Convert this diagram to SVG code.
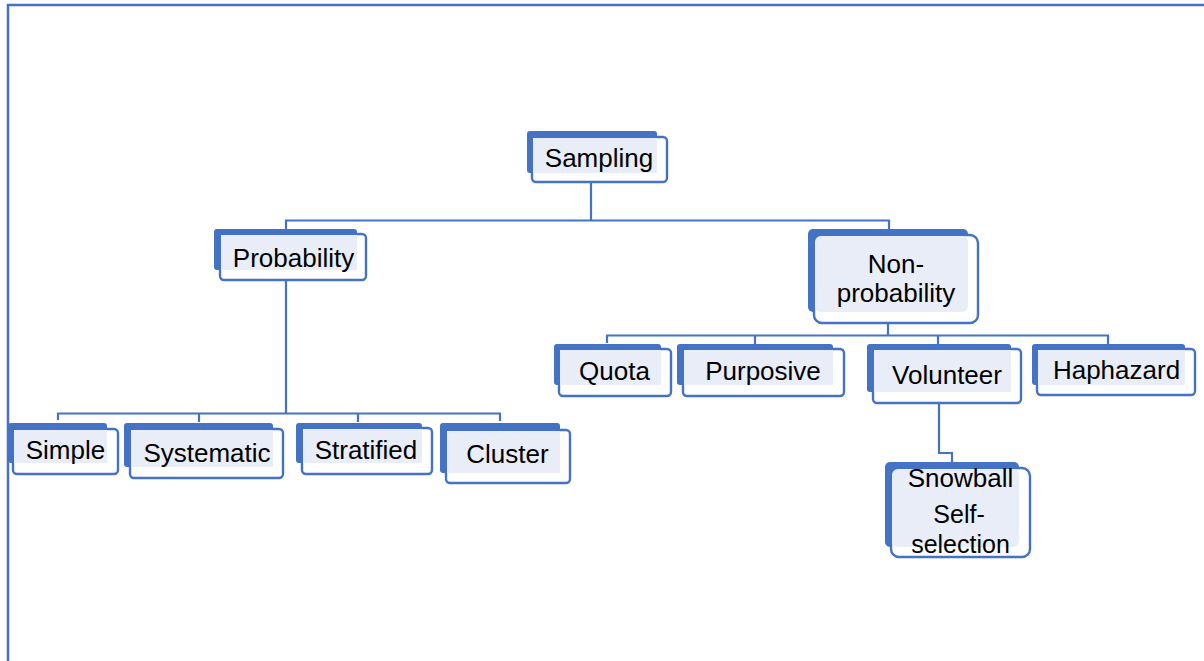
<svg xmlns="http://www.w3.org/2000/svg" width="1204" height="661" viewBox="0 0 1204 661">
  <style>
    .back { fill: #4472C4; }
    .front { fill: #FFFFFF; stroke: #4472C4; stroke-width: 2.4; }
    .tint { fill: #E9EDF7; }
    .lbl { font-family: "Liberation Sans", Arial, sans-serif; font-size: 26px; fill: #000000; text-anchor: middle; }
    .tight { font-size: 25px; }
    .wire { fill: none; stroke: #4472C4; stroke-width: 2.2; }
    .frame { fill: none; stroke: #4472C4; stroke-width: 2.5; }
  </style>
  <rect width="1204" height="661" fill="#FFFFFF"/>

  <!-- outer frame: top and left edges -->
  <path class="frame" d="M8,661 V5 H1204"/>

  <!-- connectors -->
  <g id="connectors">
    <path class="wire" d="M591,182 V220.5 M286,229 V220.5 H889 V235"/>
    <path class="wire" d="M286,280 V413.5 M58,420 V413.5 H500 V421 M199,413.5 V422 M358,413.5 V422"/>
    <path class="wire" d="M888,323 V335.5 M607,343 V335.5 H1108 V344 M755,335.5 V344 M938,335.5 V344"/>
    <path class="wire" d="M939,403 V453 H952 V462"/>
  </g>

  <!-- nodes: blue tab behind, white outlined card in front, tinted overlap -->
  <g id="sampling">
    <rect class="back" x="527" y="131" width="130" height="42" rx="3"/>
    <rect class="front" x="532" y="137" width="135" height="45" rx="4"/>
    <rect class="tint" x="533" y="138" width="124" height="35"/>
    <text class="lbl" x="599" y="167">Sampling</text>
  </g>

  <g id="probability">
    <rect class="back" x="214" y="229" width="143" height="41" rx="3"/>
    <rect class="front" x="220" y="234" width="146" height="46" rx="4"/>
    <rect class="tint" x="221" y="235" width="136" height="35"/>
    <text class="lbl" x="293.5" y="267">Probability</text>
  </g>

  <g id="non-probability">
    <rect class="back" x="808" y="229" width="160" height="83" rx="5"/>
    <rect class="front" x="814" y="235" width="164" height="88" rx="8"/>
    <rect class="tint" x="815" y="236" width="153" height="76" rx="6"/>
    <text class="lbl" x="896" y="273">Non-</text>
    <text class="lbl" x="896" y="302">probability</text>
  </g>

  <g id="simple">
    <rect class="back" x="8" y="423" width="99" height="40" rx="3"/>
    <rect class="front" x="13" y="429" width="105" height="45" rx="4"/>
    <rect class="tint" x="14" y="430" width="93" height="33"/>
    <text class="lbl" x="65.5" y="459">Simple</text>
  </g>

  <g id="systematic">
    <rect class="back" x="124" y="423" width="149" height="44" rx="3"/>
    <rect class="front" x="130" y="429" width="153" height="49" rx="4"/>
    <rect class="tint" x="131" y="430" width="142" height="37"/>
    <text class="lbl" x="207" y="462">Systematic</text>
  </g>

  <g id="stratified">
    <rect class="back" x="296" y="423" width="126" height="40" rx="3"/>
    <rect class="front" x="302" y="428" width="130" height="46" rx="4"/>
    <rect class="tint" x="303" y="429" width="119" height="34"/>
    <text class="lbl" x="366" y="459">Stratified</text>
  </g>

  <g id="cluster">
    <rect class="back" x="440" y="423" width="120" height="50" rx="3"/>
    <rect class="front" x="446" y="430" width="124" height="53" rx="4"/>
    <rect class="tint" x="447" y="431" width="113" height="42"/>
    <text class="lbl" x="507.5" y="463">Cluster</text>
  </g>

  <g id="quota">
    <rect class="back" x="554" y="344" width="107" height="41" rx="3"/>
    <rect class="front" x="559" y="349" width="112" height="47" rx="4"/>
    <rect class="tint" x="560" y="350" width="101" height="35"/>
    <text class="lbl" x="614.5" y="380">Quota</text>
  </g>

  <g id="purposive">
    <rect class="back" x="677" y="344" width="156" height="41" rx="3"/>
    <rect class="front" x="683" y="349" width="161" height="47" rx="4"/>
    <rect class="tint" x="684" y="350" width="149" height="35"/>
    <text class="lbl" x="763" y="380">Purposive</text>
  </g>

  <g id="volunteer">
    <rect class="back" x="867" y="344" width="144" height="48" rx="3"/>
    <rect class="front" x="873" y="349" width="148" height="54" rx="4"/>
    <rect class="tint" x="874" y="350" width="137" height="42"/>
    <text class="lbl" x="947" y="384">Volunteer</text>
  </g>

  <g id="haphazard">
    <rect class="back" x="1032" y="344" width="153" height="41" rx="3"/>
    <rect class="front" x="1037" y="349" width="158" height="46" rx="4"/>
    <rect class="tint" x="1038" y="350" width="147" height="35"/>
    <text class="lbl" x="1116.5" y="379">Haphazard</text>
  </g>

  <g id="snowball">
    <rect class="back" x="885" y="462" width="134" height="85" rx="5"/>
    <rect class="front" x="891" y="468" width="139" height="89" rx="8"/>
    <rect class="tint" x="892" y="469" width="127" height="78" rx="6"/>
    <text class="lbl" x="960.5" y="487">Snowball</text>
    <text class="lbl tight" x="959" y="523">Self-</text>
    <text class="lbl tight" x="960.5" y="553">selection</text>
  </g>
</svg>
